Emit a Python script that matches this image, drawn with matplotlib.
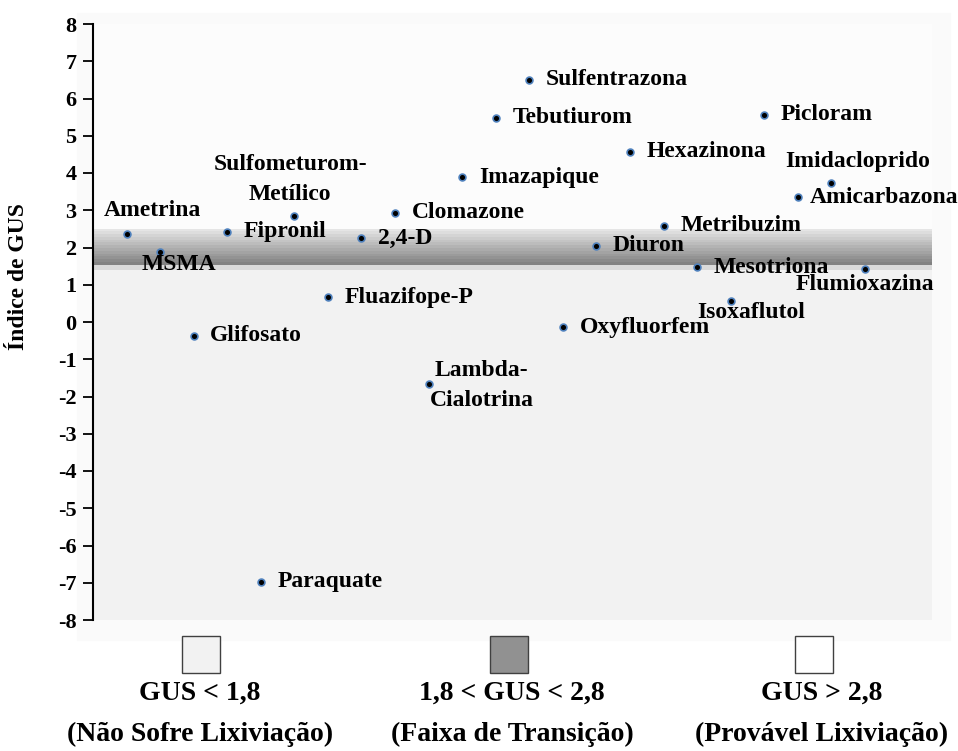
import matplotlib
matplotlib.use("Agg")
import matplotlib.pyplot as plt
from matplotlib.patches import Rectangle
import numpy as np

plt.rcParams['font.family'] = ['Liberation Serif', 'DejaVu Serif']
plt.rcParams['font.weight'] = 'bold'
plt.rcParams['axes.unicode_minus'] = False

names = ["Ametrina", "MSMA", "Glifosato", "Fipronil", "Paraquate",
         "Sulfometurom-\nMetílico", "Fluazifope-P", "2,4-D", "Clomazone",
         "Lambda-\nCialotrina", "Imazapique", "Tebutiurom", "Sulfentrazona",
         "Oxyfluorfem", "Diuron", "Hexazinona", "Metribuzim", "Mesotriona",
         "Isoxaflutol", "Picloram", "Amicarbazona", "Imidacloprido", "Flumioxazina"]
positions = list(range(1, 24))
gus = [2.35, 1.87, -0.37, 2.42, -6.97, 2.85, 0.67, 2.25, 2.93, -1.67, 3.89,
       5.48, 6.50, -0.14, 2.05, 4.57, 2.59, 1.47, 0.56, 5.56, 3.35, 3.74, 1.42]

# label placement: (dx points, dy points, ha, va)
place = {
    "Ametrina": (19, 17, 'center', 'center'),
    "MSMA": (-13, -9, 'left', 'center'),
    "Sulfometurom-\nMetílico": (-3, 26, 'center', 'center'),
    "Lambda-\nCialotrina": (38, -1, 'center', 'center'),
    "Isoxaflutol": (-24, -8, 'left', 'center'),
    "Imidacloprido": (-33, 15, 'left', 'center'),
    "Flumioxazina": (-50, -11, 'left', 'center'),
    "Amicarbazona": (9, 0, 'left', 'center'),
}

fig = plt.figure(figsize=(9.58, 7.51), dpi=100)
fig.patches.append(Rectangle((77/958, 1-640/751), (950-77)/958, (640-13)/751,
                             transform=fig.transFigure, color='#fafafa', zorder=-10))
ax = fig.add_axes([93/958, 1-620/751, (932-93)/958, (620-24)/751])
ax.set_xlim(0, 25)
ax.set_ylim(-8, 8)
ax.set_facecolor('#f2f2f2')
ax.axhspan(2.51, 8, color='#fcfcfc', lw=0, zorder=0)

# gradient transition band
levels = np.linspace(0, 1, 14)
top, dark = 2.51, 1.54
for i in range(len(levels) - 1):
    y0 = top - (top - dark) * levels[i]
    y1 = top - (top - dark) * levels[i + 1]
    g = 0.93 - 0.42 * levels[i + 1]
    ax.axhspan(y1, y0, color=(g, g, g), lw=0, zorder=0.5)
ax.axhspan(1.40, 1.54, color='#dadada', lw=0, zorder=0.5)

ax.scatter(positions, gus, s=24, c='black', edgecolors='#4f81bd', linewidths=1.2, zorder=3)

for n, x, y in zip(names, positions, gus):
    dx, dy, ha, va = place.get(n, (12, 0, 'left', 'center'))
    ax.annotate(n, (x, y), xytext=(dx, dy), textcoords='offset points', ha=ha, va=va,
                fontsize=17, fontweight='bold', linespacing=1.55)

for s in ['top', 'right', 'bottom']:
    ax.spines[s].set_visible(False)
ax.spines['left'].set_linewidth(1.5)
ax.set_xticks([])
ax.set_yticks(range(-8, 9))
ax.tick_params(axis='y', length=7, width=1.3, labelsize=16, pad=5)
for t in ax.get_yticklabels():
    t.set_fontweight('bold')
ax.set_ylabel('Índice de GUS', fontsize=17, fontweight='bold')
ax.yaxis.set_label_coords(-0.076, 0.577)

# legend boxes
box_cols = ['#f2f2f2', '#919191', '#ffffff']
box_cx = [201, 509, 814]
leg1 = ['GUS < 1,8', '1,8 < GUS < 2,8', 'GUS > 2,8']
leg2 = ['(Não Sofre Lixiviação)', '(Faixa de Transição)', '(Provável Lixiviação)']
txt_cx = [200, 512, 822]
for c, bx, l1, l2, tx in zip(box_cols, box_cx, leg1, leg2, txt_cx):
    fig.patches.append(Rectangle(((bx-19)/958, 1-673/751), 38/958, 37/751,
                                 transform=fig.transFigure, facecolor=c,
                                 edgecolor='#404040', lw=1))
    fig.text(tx/958, 1-693/751, l1, ha='center', va='center', fontsize=20, fontweight='bold')
    fig.text(tx/958, 1-734/751, l2, ha='center', va='center', fontsize=20, fontweight='bold')

fig.savefig('out.png', dpi=100)
